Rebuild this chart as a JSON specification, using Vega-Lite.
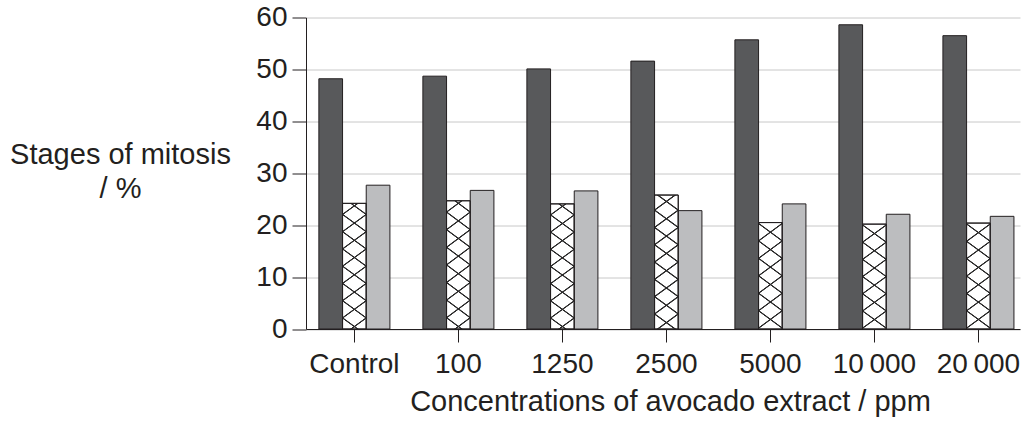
{
  "$schema": "https://vega.github.io/schema/vega-lite/v6.json",
  "width": 714,
  "height": 311.5,
  "autosize": "none",
  "padding": {"left": 306, "top": 17.5, "right": 5, "bottom": 92},
  "config": {
    "view": {"stroke": null},
    "font": "Liberation Sans",
    "axis": {
      "labelFont": "Liberation Sans",
      "titleFont": "Liberation Sans",
      "labelColor": "#231f20",
      "titleColor": "#231f20",
      "domainColor": "#231f20",
      "tickColor": "#231f20",
      "labelFontSize": 28,
      "titleFontSize": 29,
      "titleFontWeight": "normal"
    }
  },
  "data": {
    "values": [
      {"conc": "Control", "stage": "A", "pct": 48.2},
      {"conc": "Control", "stage": "B", "pct": 24.2},
      {"conc": "Control", "stage": "C", "pct": 27.7},
      {"conc": "100", "stage": "A", "pct": 48.7},
      {"conc": "100", "stage": "B", "pct": 24.7},
      {"conc": "100", "stage": "C", "pct": 26.7},
      {"conc": "1250", "stage": "A", "pct": 50.1},
      {"conc": "1250", "stage": "B", "pct": 24.1},
      {"conc": "1250", "stage": "C", "pct": 26.6},
      {"conc": "2500", "stage": "A", "pct": 51.6},
      {"conc": "2500", "stage": "B", "pct": 25.8},
      {"conc": "2500", "stage": "C", "pct": 22.8},
      {"conc": "5000", "stage": "A", "pct": 55.7},
      {"conc": "5000", "stage": "B", "pct": 20.5},
      {"conc": "5000", "stage": "C", "pct": 24.1},
      {"conc": "10\u2009000", "stage": "A", "pct": 58.6},
      {"conc": "10\u2009000", "stage": "B", "pct": 20.2},
      {"conc": "10\u2009000", "stage": "C", "pct": 22.1},
      {"conc": "20\u2009000", "stage": "A", "pct": 56.5},
      {"conc": "20\u2009000", "stage": "B", "pct": 20.4},
      {"conc": "20\u2009000", "stage": "C", "pct": 21.7}
    ]
  },
  "encoding": {
    "x": {
      "field": "conc",
      "type": "nominal",
      "sort": ["Control", "100", "1250", "2500", "5000", "10\u2009000", "20\u2009000"],
      "scale": {"paddingInner": 0.317, "paddingOuter": 0.091, "align": 0.68},
      "axis": {
        "title": "Concentrations of avocado extract / ppm",
        "labelAngle": 0,
        "labelBaseline": "alphabetic",
        "labelPadding": 30.5,
        "tickSize": 13,
        "grid": false,
        "titleBaseline": "alphabetic",
        "titleAlign": "center",
        "titleX": 364,
        "titleY": 81
      }
    },
    "xOffset": {
      "field": "stage",
      "type": "nominal",
      "scale": {"domain": ["A", "B", "C"], "paddingInner": 0, "paddingOuter": 0}
    },
    "y": {
      "field": "pct",
      "type": "quantitative",
      "scale": {"domain": [0, 60], "nice": false},
      "axis": {
        "values": [0, 10, 20, 30, 40, 50, 60],
        "title": ["Stages of mitosis", "/ %"],
        "titleAngle": 0,
        "titleAlign": "center",
        "titleBaseline": "alphabetic",
        "titleX": -186,
        "titleY": 145.5,
        "titleLineHeight": 34,
        "tickSize": 14,
        "labelPadding": 5,
        "grid": true,
        "gridColor": "#c8c8c8",
        "gridWidth": 1
      }
    }
  },
  "layer": [
    {
      "mark": {"type": "bar", "stroke": "#231f20", "strokeWidth": 1},
      "encoding": {
        "fill": {
          "field": "stage",
          "type": "nominal",
          "scale": {"domain": ["A", "B", "C"], "range": ["#58595b", "#ffffff", "#bcbdbf"]},
          "legend": null
        }
      }
    },
    {
      "transform": [{"filter": "datum.stage === 'B' && datum.pct >= 23 && datum.pct < 25.5"}],
      "mark": {
        "type": "bar",
        "fill": {
          "gradient": "linear", "x1": 0, "y1": 0, "x2": 0.1533, "y2": 1.1162,
          "stops": [
            {"offset": 0.0695, "color": "rgba(35,31,32,0)"}, {"offset": 0.0745, "color": "#2a2a2a"}, {"offset": 0.0805, "color": "#2a2a2a"}, {"offset": 0.0855, "color": "rgba(35,31,32,0)"},
            {"offset": 0.1902, "color": "rgba(35,31,32,0)"}, {"offset": 0.1952, "color": "#2a2a2a"}, {"offset": 0.2012, "color": "#2a2a2a"}, {"offset": 0.2062, "color": "rgba(35,31,32,0)"},
            {"offset": 0.3109, "color": "rgba(35,31,32,0)"}, {"offset": 0.3159, "color": "#2a2a2a"}, {"offset": 0.3219, "color": "#2a2a2a"}, {"offset": 0.3269, "color": "rgba(35,31,32,0)"},
            {"offset": 0.4316, "color": "rgba(35,31,32,0)"}, {"offset": 0.4366, "color": "#2a2a2a"}, {"offset": 0.4426, "color": "#2a2a2a"}, {"offset": 0.4476, "color": "rgba(35,31,32,0)"},
            {"offset": 0.5524, "color": "rgba(35,31,32,0)"}, {"offset": 0.5574, "color": "#2a2a2a"}, {"offset": 0.5634, "color": "#2a2a2a"}, {"offset": 0.5684, "color": "rgba(35,31,32,0)"},
            {"offset": 0.6731, "color": "rgba(35,31,32,0)"}, {"offset": 0.6781, "color": "#2a2a2a"}, {"offset": 0.6841, "color": "#2a2a2a"}, {"offset": 0.6891, "color": "rgba(35,31,32,0)"},
            {"offset": 0.7938, "color": "rgba(35,31,32,0)"}, {"offset": 0.7988, "color": "#2a2a2a"}, {"offset": 0.8048, "color": "#2a2a2a"}, {"offset": 0.8098, "color": "rgba(35,31,32,0)"},
            {"offset": 0.9145, "color": "rgba(35,31,32,0)"}, {"offset": 0.9195, "color": "#2a2a2a"}, {"offset": 0.9255, "color": "#2a2a2a"}, {"offset": 0.9305, "color": "rgba(35,31,32,0)"}
          ]
        }
      }
    },
    {
      "transform": [{"filter": "datum.stage === 'B' && datum.pct >= 23 && datum.pct < 25.5"}],
      "mark": {
        "type": "bar",
        "stroke": "#231f20",
        "strokeWidth": 1,
        "fill": {
          "gradient": "linear", "x1": 0, "y1": 1, "x2": 0.1533, "y2": -0.1162,
          "stops": [
            {"offset": 0.0695, "color": "rgba(35,31,32,0)"}, {"offset": 0.0745, "color": "#2a2a2a"}, {"offset": 0.0805, "color": "#2a2a2a"}, {"offset": 0.0855, "color": "rgba(35,31,32,0)"},
            {"offset": 0.1902, "color": "rgba(35,31,32,0)"}, {"offset": 0.1952, "color": "#2a2a2a"}, {"offset": 0.2012, "color": "#2a2a2a"}, {"offset": 0.2062, "color": "rgba(35,31,32,0)"},
            {"offset": 0.3109, "color": "rgba(35,31,32,0)"}, {"offset": 0.3159, "color": "#2a2a2a"}, {"offset": 0.3219, "color": "#2a2a2a"}, {"offset": 0.3269, "color": "rgba(35,31,32,0)"},
            {"offset": 0.4316, "color": "rgba(35,31,32,0)"}, {"offset": 0.4366, "color": "#2a2a2a"}, {"offset": 0.4426, "color": "#2a2a2a"}, {"offset": 0.4476, "color": "rgba(35,31,32,0)"},
            {"offset": 0.5524, "color": "rgba(35,31,32,0)"}, {"offset": 0.5574, "color": "#2a2a2a"}, {"offset": 0.5634, "color": "#2a2a2a"}, {"offset": 0.5684, "color": "rgba(35,31,32,0)"},
            {"offset": 0.6731, "color": "rgba(35,31,32,0)"}, {"offset": 0.6781, "color": "#2a2a2a"}, {"offset": 0.6841, "color": "#2a2a2a"}, {"offset": 0.6891, "color": "rgba(35,31,32,0)"},
            {"offset": 0.7938, "color": "rgba(35,31,32,0)"}, {"offset": 0.7988, "color": "#2a2a2a"}, {"offset": 0.8048, "color": "#2a2a2a"}, {"offset": 0.8098, "color": "rgba(35,31,32,0)"},
            {"offset": 0.9145, "color": "rgba(35,31,32,0)"}, {"offset": 0.9195, "color": "#2a2a2a"}, {"offset": 0.9255, "color": "#2a2a2a"}, {"offset": 0.9305, "color": "rgba(35,31,32,0)"}
          ]
        }
      }
    },
    {
      "transform": [{"filter": "datum.stage === 'B' && datum.pct >= 25.5"}],
      "mark": {
        "type": "bar",
        "fill": {
          "gradient": "linear", "x1": 0, "y1": 0, "x2": 0.1435, "y2": 1.1107,
          "stops": [
            {"offset": 0.0915, "color": "rgba(35,31,32,0)"}, {"offset": 0.0965, "color": "#2a2a2a"}, {"offset": 0.1025, "color": "#2a2a2a"}, {"offset": 0.1075, "color": "rgba(35,31,32,0)"},
            {"offset": 0.2060, "color": "rgba(35,31,32,0)"}, {"offset": 0.2110, "color": "#2a2a2a"}, {"offset": 0.2170, "color": "#2a2a2a"}, {"offset": 0.2220, "color": "rgba(35,31,32,0)"},
            {"offset": 0.3204, "color": "rgba(35,31,32,0)"}, {"offset": 0.3254, "color": "#2a2a2a"}, {"offset": 0.3314, "color": "#2a2a2a"}, {"offset": 0.3364, "color": "rgba(35,31,32,0)"},
            {"offset": 0.4348, "color": "rgba(35,31,32,0)"}, {"offset": 0.4398, "color": "#2a2a2a"}, {"offset": 0.4458, "color": "#2a2a2a"}, {"offset": 0.4508, "color": "rgba(35,31,32,0)"},
            {"offset": 0.5492, "color": "rgba(35,31,32,0)"}, {"offset": 0.5542, "color": "#2a2a2a"}, {"offset": 0.5602, "color": "#2a2a2a"}, {"offset": 0.5652, "color": "rgba(35,31,32,0)"},
            {"offset": 0.6636, "color": "rgba(35,31,32,0)"}, {"offset": 0.6686, "color": "#2a2a2a"}, {"offset": 0.6746, "color": "#2a2a2a"}, {"offset": 0.6796, "color": "rgba(35,31,32,0)"},
            {"offset": 0.7780, "color": "rgba(35,31,32,0)"}, {"offset": 0.7830, "color": "#2a2a2a"}, {"offset": 0.7890, "color": "#2a2a2a"}, {"offset": 0.7940, "color": "rgba(35,31,32,0)"},
            {"offset": 0.8925, "color": "rgba(35,31,32,0)"}, {"offset": 0.8975, "color": "#2a2a2a"}, {"offset": 0.9035, "color": "#2a2a2a"}, {"offset": 0.9085, "color": "rgba(35,31,32,0)"}
          ]
        }
      }
    },
    {
      "transform": [{"filter": "datum.stage === 'B' && datum.pct >= 25.5"}],
      "mark": {
        "type": "bar",
        "stroke": "#231f20",
        "strokeWidth": 1,
        "fill": {
          "gradient": "linear", "x1": 0, "y1": 1, "x2": 0.1435, "y2": -0.1107,
          "stops": [
            {"offset": 0.0915, "color": "rgba(35,31,32,0)"}, {"offset": 0.0965, "color": "#2a2a2a"}, {"offset": 0.1025, "color": "#2a2a2a"}, {"offset": 0.1075, "color": "rgba(35,31,32,0)"},
            {"offset": 0.2060, "color": "rgba(35,31,32,0)"}, {"offset": 0.2110, "color": "#2a2a2a"}, {"offset": 0.2170, "color": "#2a2a2a"}, {"offset": 0.2220, "color": "rgba(35,31,32,0)"},
            {"offset": 0.3204, "color": "rgba(35,31,32,0)"}, {"offset": 0.3254, "color": "#2a2a2a"}, {"offset": 0.3314, "color": "#2a2a2a"}, {"offset": 0.3364, "color": "rgba(35,31,32,0)"},
            {"offset": 0.4348, "color": "rgba(35,31,32,0)"}, {"offset": 0.4398, "color": "#2a2a2a"}, {"offset": 0.4458, "color": "#2a2a2a"}, {"offset": 0.4508, "color": "rgba(35,31,32,0)"},
            {"offset": 0.5492, "color": "rgba(35,31,32,0)"}, {"offset": 0.5542, "color": "#2a2a2a"}, {"offset": 0.5602, "color": "#2a2a2a"}, {"offset": 0.5652, "color": "rgba(35,31,32,0)"},
            {"offset": 0.6636, "color": "rgba(35,31,32,0)"}, {"offset": 0.6686, "color": "#2a2a2a"}, {"offset": 0.6746, "color": "#2a2a2a"}, {"offset": 0.6796, "color": "rgba(35,31,32,0)"},
            {"offset": 0.7780, "color": "rgba(35,31,32,0)"}, {"offset": 0.7830, "color": "#2a2a2a"}, {"offset": 0.7890, "color": "#2a2a2a"}, {"offset": 0.7940, "color": "rgba(35,31,32,0)"},
            {"offset": 0.8925, "color": "rgba(35,31,32,0)"}, {"offset": 0.8975, "color": "#2a2a2a"}, {"offset": 0.9035, "color": "#2a2a2a"}, {"offset": 0.9085, "color": "rgba(35,31,32,0)"}
          ]
        }
      }
    },
    {
      "transform": [{"filter": "datum.stage === 'B' && datum.pct < 23"}],
      "mark": {
        "type": "bar",
        "fill": {
          "gradient": "linear", "x1": 0, "y1": 0, "x2": 0.1859, "y2": 1.1335,
          "stops": [
            {"offset": 0.1385, "color": "rgba(35,31,32,0)"}, {"offset": 0.1443, "color": "#2a2a2a"}, {"offset": 0.1513, "color": "#2a2a2a"}, {"offset": 0.1571, "color": "rgba(35,31,32,0)"},
            {"offset": 0.2794, "color": "rgba(35,31,32,0)"}, {"offset": 0.2852, "color": "#2a2a2a"}, {"offset": 0.2922, "color": "#2a2a2a"}, {"offset": 0.2980, "color": "rgba(35,31,32,0)"},
            {"offset": 0.4203, "color": "rgba(35,31,32,0)"}, {"offset": 0.4261, "color": "#2a2a2a"}, {"offset": 0.4331, "color": "#2a2a2a"}, {"offset": 0.4389, "color": "rgba(35,31,32,0)"},
            {"offset": 0.5611, "color": "rgba(35,31,32,0)"}, {"offset": 0.5669, "color": "#2a2a2a"}, {"offset": 0.5739, "color": "#2a2a2a"}, {"offset": 0.5797, "color": "rgba(35,31,32,0)"},
            {"offset": 0.7020, "color": "rgba(35,31,32,0)"}, {"offset": 0.7078, "color": "#2a2a2a"}, {"offset": 0.7148, "color": "#2a2a2a"}, {"offset": 0.7206, "color": "rgba(35,31,32,0)"},
            {"offset": 0.8429, "color": "rgba(35,31,32,0)"}, {"offset": 0.8487, "color": "#2a2a2a"}, {"offset": 0.8557, "color": "#2a2a2a"}, {"offset": 0.8615, "color": "rgba(35,31,32,0)"}
          ]
        }
      }
    },
    {
      "transform": [{"filter": "datum.stage === 'B' && datum.pct < 23"}],
      "mark": {
        "type": "bar",
        "stroke": "#231f20",
        "strokeWidth": 1,
        "fill": {
          "gradient": "linear", "x1": 0, "y1": 1, "x2": 0.1859, "y2": -0.1335,
          "stops": [
            {"offset": 0.1385, "color": "rgba(35,31,32,0)"}, {"offset": 0.1443, "color": "#2a2a2a"}, {"offset": 0.1513, "color": "#2a2a2a"}, {"offset": 0.1571, "color": "rgba(35,31,32,0)"},
            {"offset": 0.2794, "color": "rgba(35,31,32,0)"}, {"offset": 0.2852, "color": "#2a2a2a"}, {"offset": 0.2922, "color": "#2a2a2a"}, {"offset": 0.2980, "color": "rgba(35,31,32,0)"},
            {"offset": 0.4203, "color": "rgba(35,31,32,0)"}, {"offset": 0.4261, "color": "#2a2a2a"}, {"offset": 0.4331, "color": "#2a2a2a"}, {"offset": 0.4389, "color": "rgba(35,31,32,0)"},
            {"offset": 0.5611, "color": "rgba(35,31,32,0)"}, {"offset": 0.5669, "color": "#2a2a2a"}, {"offset": 0.5739, "color": "#2a2a2a"}, {"offset": 0.5797, "color": "rgba(35,31,32,0)"},
            {"offset": 0.7020, "color": "rgba(35,31,32,0)"}, {"offset": 0.7078, "color": "#2a2a2a"}, {"offset": 0.7148, "color": "#2a2a2a"}, {"offset": 0.7206, "color": "rgba(35,31,32,0)"},
            {"offset": 0.8429, "color": "rgba(35,31,32,0)"}, {"offset": 0.8487, "color": "#2a2a2a"}, {"offset": 0.8557, "color": "#2a2a2a"}, {"offset": 0.8615, "color": "rgba(35,31,32,0)"}
          ]
        }
      }
    }
  ]
}
